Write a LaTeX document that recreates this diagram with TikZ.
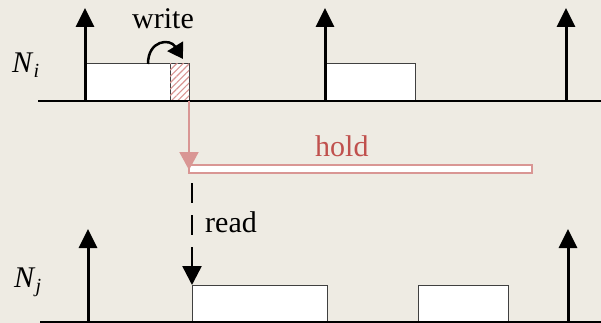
\documentclass[tikz,border=0pt]{standalone}
\usepackage{fontspec}
\setmainfont{Liberation Serif}
\usetikzlibrary{arrows.meta,patterns.meta}
\definecolor{bg}{RGB}{238,235,227}
\definecolor{pinkline}{RGB}{217,150,148}
\definecolor{holdtext}{RGB}{192,80,77}
\tikzset{
  axisline/.style={line width=1.5pt},
  tick/.style={line width=3pt,-{Triangle[length=19pt,width=18pt]}},
  slot/.style={draw=black!75,line width=1pt,fill=white,inner sep=0pt,outer sep=0pt,anchor=south west},
  lbl/.style={font=\fontsize{30}{36}\selectfont,inner sep=0pt,anchor=base west},
}
\newcommand{\subidx}[2]{\textit{#1}\raisebox{-5pt}{\fontsize{20}{20}\selectfont\textit{#2}}}
\begin{document}
\begin{tikzpicture}[x=1pt,y=-1pt]
\fill[bg] (0,0) rectangle (601,323);
\useasboundingbox (0,0) rectangle (601,323);

% top row N_i
\node[slot,minimum width=86pt,minimum height=37pt] (a1) at (84,101) {};
\node[slot,minimum width=19pt,minimum height=37pt,
  postaction={pattern={Lines[angle=45,distance=4.5pt,line width=1.1pt]},pattern color=pinkline}] (a2) at (170,101) {};
\node[slot,minimum width=90pt,minimum height=37pt] (a3) at (325,101) {};
\coordinate (ta0) at (38,101);
\coordinate (ta1) at (601,101);
\draw[axisline] (ta0) -- (ta1);
\coordinate (u1) at (85,101);  \coordinate (u1t) at (85,8);
\coordinate (u2) at (325,101); \coordinate (u2t) at (325,8);
\coordinate (u3) at (566,101); \coordinate (u3t) at (566,8);
\draw[tick] (u1) -- (u1t);
\draw[tick] (u2) -- (u2t);
\draw[tick] (u3) -- (u3t);
\node[lbl] (ni) at (12,73) {\subidx{N}{i}};

% write arrow
\coordinate (w0) at (148,64);
\coordinate (w1) at (183,59);
\draw[line width=2.5pt,-{Triangle[length=15pt,width=18pt]}] (w0) .. controls (148,40) and (170,38) .. (w1);
\node[lbl] (write) at (132,29) {write};

% hold
\node[draw=pinkline,line width=2pt,fill=white,inner sep=0pt,outer sep=0pt,anchor=north west,
  minimum width=343pt,minimum height=8pt] (hold) at (189,165) {};
\draw[pinkline,line width=2pt,-{Triangle[length=18pt,width=19pt]}] (a2.south east) -- (hold.north west |- 0,170);
\node[lbl,text=holdtext] (holdlbl) at (315,156) {hold};

% bottom row N_j
\node[slot,minimum width=135pt,minimum height=37pt] (b1) at (192,322) {};
\node[slot,minimum width=90pt,minimum height=37pt] (b2) at (418,322) {};
\coordinate (tb0) at (40,322);
\coordinate (tb1) at (601,322);
\draw[axisline] (tb0) -- (tb1);
\coordinate (v1) at (88,322);  \coordinate (v1t) at (88,229);
\coordinate (v2) at (568,322); \coordinate (v2t) at (568,229);
\draw[tick] (v1) -- (v1t);
\draw[tick] (v2) -- (v2t);
\node[lbl] (nj) at (14,287) {\subidx{N}{j}};

% read
\coordinate (r0) at (192,183);
\draw[line width=2.5pt,dash pattern=on 20pt off 12pt,-{Triangle[length=19pt,width=19pt]}] (r0) -- (b1.north west);
\node[lbl] (read) at (205,232) {read};
\end{tikzpicture}
\end{document}
